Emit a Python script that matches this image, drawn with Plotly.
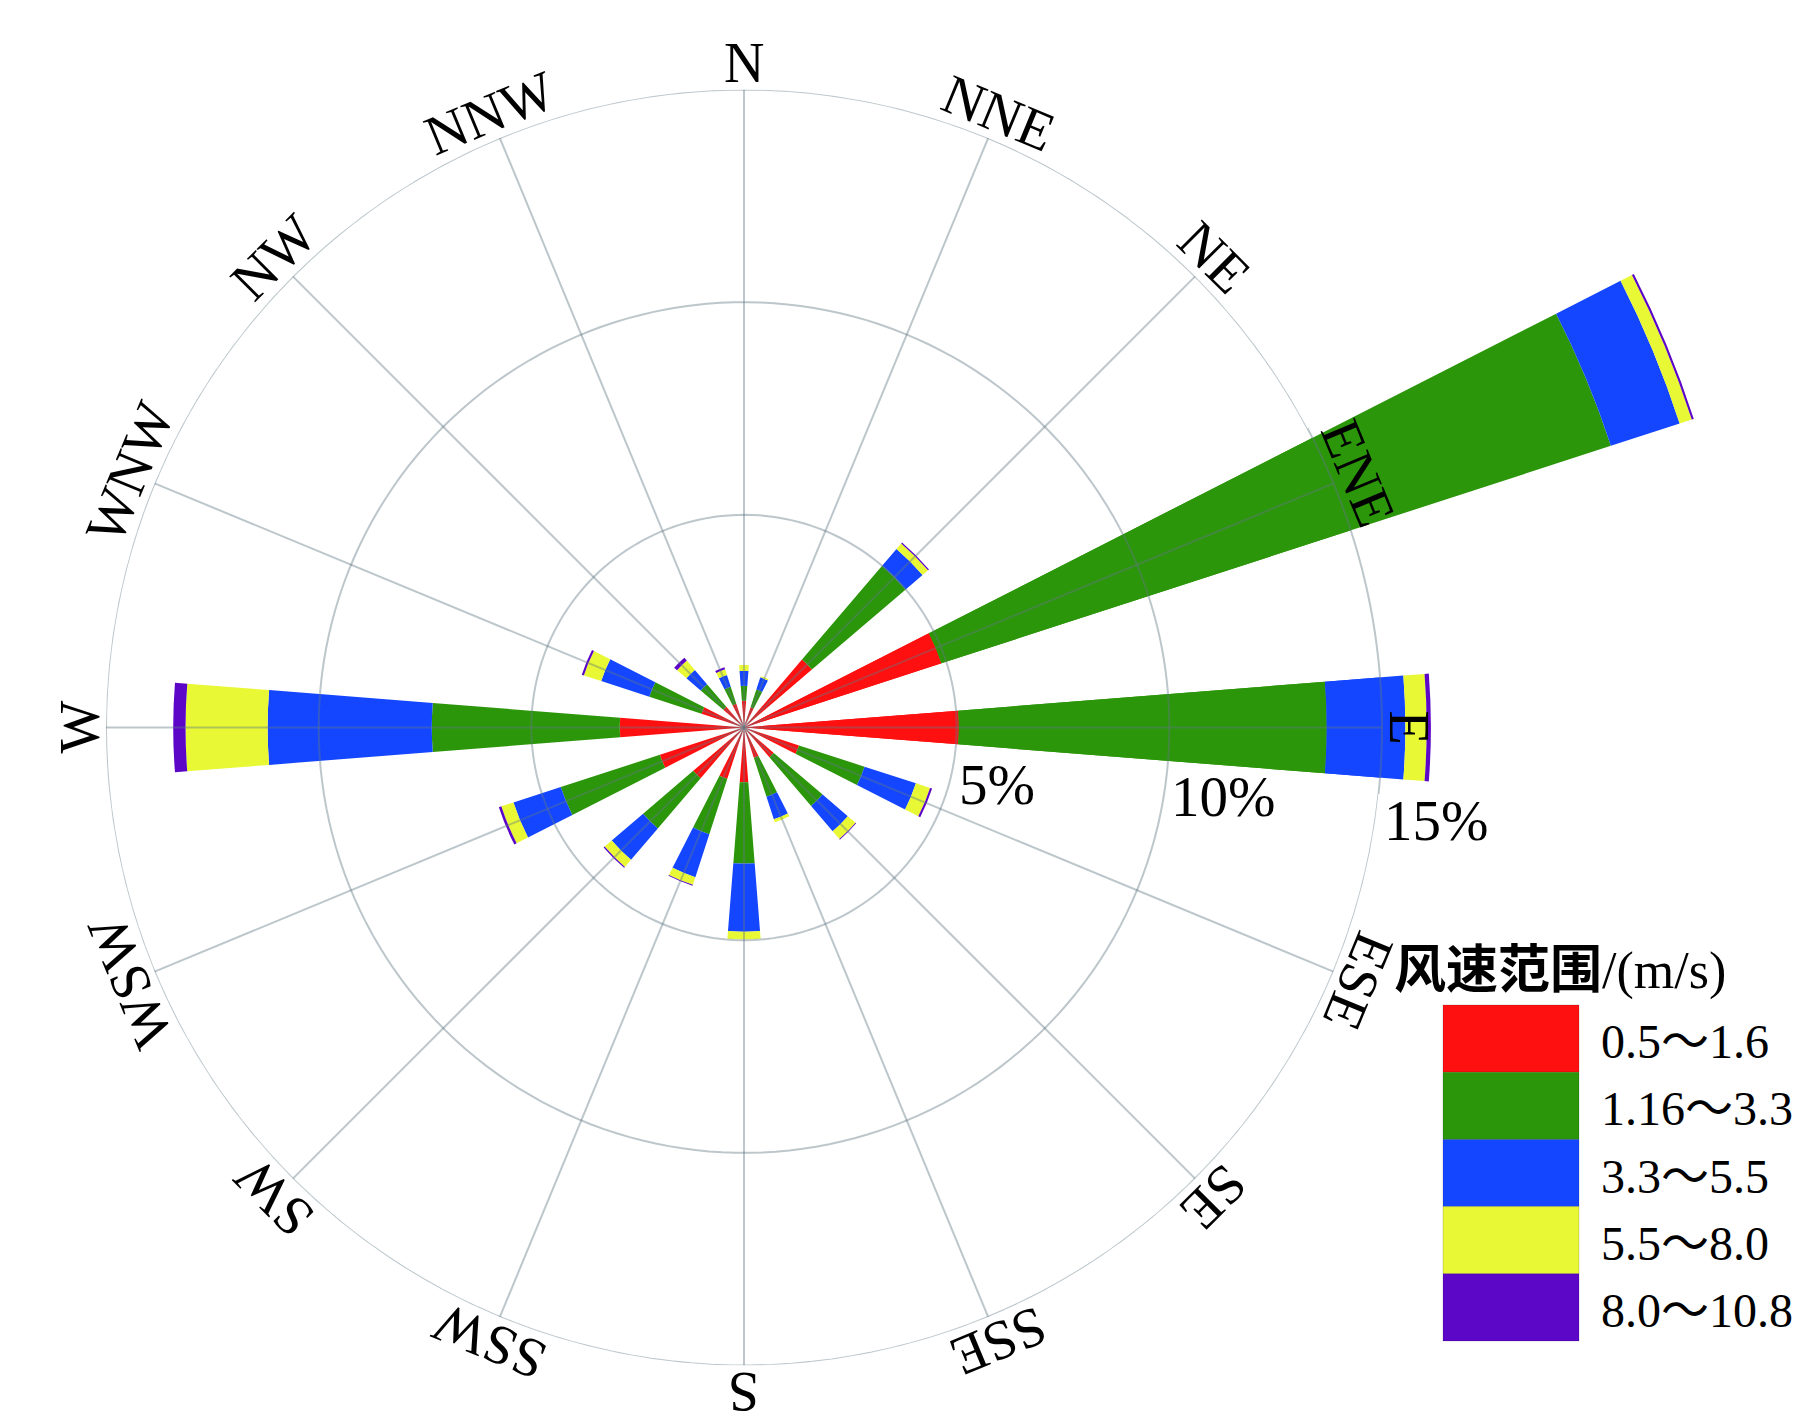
import math
import plotly.graph_objects as go

# ---------------- data ----------------
directions = ["N", "NNE", "NE", "ENE", "E", "ESE", "SE", "SSE",
              "S", "SSW", "SW", "WSW", "W", "WNW", "NW", "NNW"]
dir_angles = [0, 22.5, 45, 67.5, 90, 112.5, 135, 157.5,
              180, 202.5, 225, 247.5, 270, 292.5, 315, 337.5]

speed_bins = ["0.5～1.6", "1.16～3.3", "3.3～5.5", "5.5～8.0", "8.0～10.8"]
bin_colors = ["#FF1010", "#2C960A", "#1446FF", "#E8F834", "#5C06C8"]

# frequency (%) of each speed bin per direction
freq_0_5_1_6 = [0.63, 0.50, 2.10, 4.88, 5.05, 1.36, 0.92, 0.75,
                1.29, 1.27, 1.57, 2.08, 2.92, 1.05, 0.64, 0.59]
freq_1_16_3_3 = [0.35, 0.44, 2.90, 16.55, 8.65, 1.62, 1.51, 0.96,
                 1.91, 1.37, 1.55, 2.45, 4.42, 1.29, 0.70, 0.42]
freq_3_3_5_5 = [0.35, 0.30, 0.52, 1.70, 1.85, 1.27, 0.78, 0.56,
                1.60, 1.06, 0.97, 1.17, 3.86, 1.19, 0.44, 0.29]
freq_5_5_8_0 = [0.14, 0.03, 0.17, 0.30, 0.50, 0.35, 0.24, 0.07,
                0.18, 0.19, 0.22, 0.30, 1.93, 0.43, 0.29, 0.14]
freq_8_0_10_8 = [0.00, 0.00, 0.03, 0.05, 0.10, 0.05, 0.02, 0.00,
                 0.00, 0.02, 0.03, 0.06, 0.29, 0.05, 0.09, 0.05]

series = [freq_0_5_1_6, freq_1_16_3_3, freq_3_3_5_5, freq_5_5_8_0, freq_8_0_10_8]

ring_values = [5, 10, 15]
ring_labels = [f"{v}%" for v in ring_values]

# ---------------- layout constants ----------------
W, H = 1810, 1424
CX, CY = 736.0, 719.5          # pole position in pixels
R_PX = 638.0                   # pixel radius of the outermost ring
R_MAX = ring_values[-1]
BAR_WIDTH = 9
SERIF = "Liberation Serif, Times New Roman, serif"
GRID_COLOR = "rgba(95,120,130,0.42)"

# second (sector) subplot lets the longest bars run past the outer ring
R2_MAX = 25.0
SECTOR = [-6.0, 28.0]          # screen angles, counter-clockwise from east
R2_PX = R_PX * R2_MAX / R_MAX


def in_sector(compass):
    s = 90.0 - compass
    s = (s + 180.0) % 360.0 - 180.0
    return SECTOR[0] <= s <= SECTOR[1]


# sector bounding box (unit radius) incl. the pole
pts_x, pts_y = [0.0], [0.0]
for a in [SECTOR[0], SECTOR[1]] + [k * 90.0 for k in range(-4, 5) if SECTOR[0] <= k * 90.0 <= SECTOR[1]]:
    pts_x.append(math.cos(math.radians(a)))
    pts_y.append(math.sin(math.radians(a)))
bx0, bx1, by0, by1 = min(pts_x), max(pts_x), min(pts_y), max(pts_y)
dom2_x = [(CX + R2_PX * bx0) / W, (CX + R2_PX * bx1) / W]
dom2_y = [(H - (CY - R2_PX * by0)) / H, (H - (CY - R2_PX * by1)) / H]

fig = go.Figure()

for sub in ["polar", "polar2"]:
    for name, vals, col in zip(speed_bins, series, bin_colors):
        fig.add_trace(go.Barpolar(
            r=vals, theta=dir_angles, width=[BAR_WIDTH] * len(dir_angles),
            name=name, marker=dict(color=col, line=dict(width=0)),
            showlegend=False, hoverinfo="skip", subplot=sub,
        ))

# grid lines drawn above the bars (semi-transparent)
sec_lo = 90.0 - SECTOR[1]
sec_hi = 90.0 - SECTOR[0]
theta_main = [sec_hi + i * (360.0 - (sec_hi - sec_lo)) / 180 for i in range(181)]
theta_sec = [sec_lo + i * (sec_hi - sec_lo) / 40 for i in range(41)]
for v in ring_values:
    fig.add_trace(go.Scatterpolar(
        r=[v] * len(theta_main), theta=theta_main, mode="lines",
        line=dict(color=GRID_COLOR, width=2), showlegend=False,
        hoverinfo="skip", subplot="polar",
    ))
    fig.add_trace(go.Scatterpolar(
        r=[v] * len(theta_sec), theta=theta_sec, mode="lines",
        line=dict(color=GRID_COLOR, width=2), showlegend=False,
        hoverinfo="skip", subplot="polar2",
    ))
for sub, keep in [("polar", False), ("polar2", True)]:
    sp_r, sp_t = [], []
    for a in dir_angles:
        if in_sector(a) == keep:
            sp_r += [0, R_MAX, None]
            sp_t += [a, a, None]
    fig.add_trace(go.Scatterpolar(
        r=sp_r, theta=sp_t, mode="lines", line=dict(color=GRID_COLOR, width=2),
        showlegend=False, hoverinfo="skip", connectgaps=False, subplot=sub,
    ))

annotations = []

# direction labels, rotated tangentially
R_LAB = 665.0
for d, a in zip(directions, dir_angles):
    t = math.radians(a)
    px = CX + R_LAB * math.sin(t)
    py = CY - R_LAB * math.cos(t)
    ang = a if a <= 180 else a - 360
    annotations.append(dict(
        x=px / W, y=1 - py / H, xref="paper", yref="paper", text=d,
        showarrow=False, textangle=ang, xanchor="center", yanchor="middle",
        font=dict(family=SERIF, size=56, color="black"),
    ))

# radial percent labels
label_dy = [57.0, 69.0, 93.0]
for v, lab, dy in zip(ring_values, ring_labels, label_dy):
    px = CX + R_PX * v / R_MAX
    py = CY + dy
    annotations.append(dict(
        x=px / W, y=1 - py / H, xref="paper", yref="paper", text=lab,
        showarrow=False, xanchor="left", yanchor="middle",
        font=dict(family=SERIF, size=57, color="black"),
    ))

# custom legend
annotations.append(dict(
    x=1384 / W, y=1 - 963 / H, xref="paper", yref="paper",
    text="<b>风速范围</b>/(m/s)", showarrow=False, xanchor="left", yanchor="middle",
    font=dict(family="Liberation Serif, Noto Sans CJK SC", size=52, color="black"),
))
shapes = []
LX0, LX1, LY0, LH = 1435, 1571, 997, 67.2
for i, (name, col) in enumerate(zip(speed_bins, bin_colors)):
    y0 = LY0 + i * LH
    y1 = y0 + LH
    shapes.append(dict(
        type="rect", xref="paper", yref="paper",
        x0=LX0 / W, x1=LX1 / W, y0=1 - y1 / H, y1=1 - y0 / H,
        fillcolor=col, line=dict(width=1, color="rgba(0,0,0,0.15)"),
    ))
    annotations.append(dict(
        x=1591 / W, y=1 - (y0 + LH / 2 + 3) / H, xref="paper", yref="paper",
        text=name, showarrow=False, xanchor="left", yanchor="middle",
        font=dict(family="Liberation Serif, Noto Sans CJK SC", size=48, color="black"),
    ))

hidden_angular = dict(rotation=90, direction="clockwise", visible=False,
                      thetaunit="degrees")
fig.update_layout(
    template="none",
    width=W, height=H,
    margin=dict(l=0, r=0, t=0, b=0),
    paper_bgcolor="white", plot_bgcolor="white",
    showlegend=False,
    polar=dict(
        domain=dict(x=[(CX - R_PX) / W, (CX + R_PX) / W],
                    y=[(H - CY - R_PX) / H, (H - CY + R_PX) / H]),
        bgcolor="white",
        barmode="stack",
        radialaxis=dict(range=[0, R_MAX], visible=False),
        angularaxis=hidden_angular,
    ),
    polar2=dict(
        domain=dict(x=dom2_x, y=dom2_y),
        sector=SECTOR,
        bgcolor="rgba(0,0,0,0)",
        barmode="stack",
        radialaxis=dict(range=[0, R2_MAX], visible=False),
        angularaxis=hidden_angular,
    ),
    annotations=annotations,
    shapes=shapes,
)

fig.write_html("out.html")
